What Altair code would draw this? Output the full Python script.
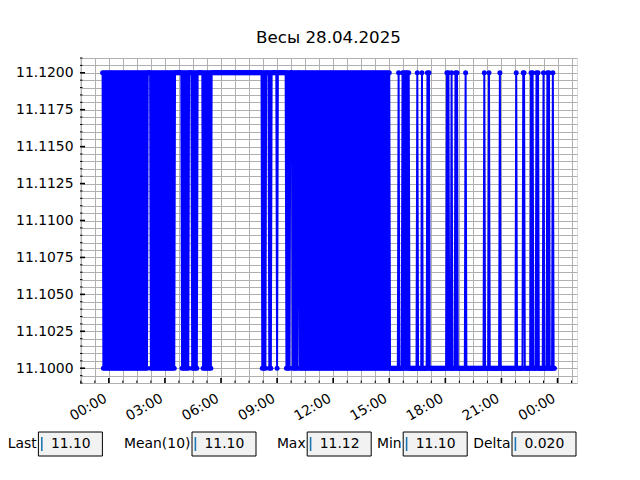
import altair as alt
import pandas as pd

# ---------------- data ----------------
TITLE = "Весы 28.04.2025"
SERIES_START = "2025-04-27 23:40"      # first sample
SAMPLE_SECONDS = 150                    # one reading every 2.5 minutes
LEVELS = {0: 11.10, 1: 11.12}           # the two readings the scale toggles between

# state of every sample, one hour per row (1 -> 11.12, 0 -> 11.10)
STATES = [
    1, 0, 1, 0, 1, 0, 1, 0, 1, 0, 1, 0, 1, 0, 1, 0, 1, 0, 1, 0, 1, 0, 1, 0,   # 23:40
    1, 0, 1, 0, 1, 0, 1, 0, 1, 0, 1, 0, 1, 0, 1, 0, 1, 0, 1, 0, 1, 0, 1, 0,   # 00:40
    1, 0, 1, 0, 1, 0, 1, 0, 1, 0, 1, 1, 1, 1, 0, 1, 0, 1, 0, 1, 0, 1, 0, 1,   # 01:40
    0, 1, 0, 1, 0, 1, 0, 1, 0, 1, 0, 1, 0, 1, 0, 1, 0, 1, 0, 1, 0, 1, 1, 1,   # 02:40
    1, 1, 1, 1, 1, 1, 0, 1, 0, 1, 0, 1, 0, 1, 0, 1, 1, 1, 1, 0, 1, 0, 1, 0,   # 03:40
    1, 0, 1, 1, 1, 1, 1, 1, 1, 0, 1, 0, 1, 0, 1, 0, 1, 0, 1, 0, 1, 1, 1, 1,   # 04:40
    1, 1, 1, 1, 1, 1, 1, 1, 1, 1, 1, 1, 1, 1, 1, 1, 1, 1, 1, 1, 1, 1, 1, 1,   # 05:40
    1, 1, 1, 1, 1, 1, 1, 1, 1, 1, 1, 1, 1, 1, 1, 1, 1, 1, 1, 1, 1, 1, 1, 1,   # 06:40
    1, 1, 1, 1, 1, 1, 1, 1, 1, 1, 1, 1, 1, 0, 1, 0, 1, 0, 1, 1, 1, 1, 0, 1,   # 07:40
    0, 1, 1, 1, 1, 1, 1, 1, 0, 1, 1, 1, 1, 1, 1, 1, 1, 1, 1, 1, 0, 1, 0, 1,   # 08:40
    0, 1, 1, 1, 0, 1, 0, 1, 0, 1, 0, 1, 1, 0, 1, 0, 1, 0, 1, 0, 1, 0, 1, 0,   # 09:40
    1, 0, 1, 0, 1, 0, 1, 0, 1, 0, 1, 0, 1, 0, 1, 0, 1, 0, 1, 0, 1, 0, 1, 0,   # 10:40
    1, 0, 1, 0, 1, 0, 1, 0, 1, 0, 1, 0, 1, 0, 1, 0, 1, 0, 1, 0, 1, 0, 1, 0,   # 11:40
    1, 0, 1, 0, 1, 0, 1, 0, 1, 0, 1, 0, 1, 0, 1, 0, 1, 0, 1, 0, 1, 0, 1, 0,   # 12:40
    1, 0, 1, 0, 1, 0, 1, 0, 1, 0, 1, 0, 1, 0, 1, 0, 1, 0, 1, 0, 1, 0, 1, 0,   # 13:40
    1, 0, 1, 0, 1, 0, 1, 0, 1, 0, 0, 0, 0, 0, 0, 0, 0, 0, 0, 0, 1, 0, 0, 0,   # 14:40
    0, 1, 0, 1, 0, 1, 0, 1, 0, 1, 0, 0, 0, 0, 0, 0, 0, 0, 0, 0, 1, 0, 0, 0,   # 15:40
    0, 0, 1, 0, 0, 0, 0, 0, 0, 1, 0, 1, 0, 0, 0, 0, 0, 0, 0, 0, 0, 0, 0, 0,   # 16:40
    0, 0, 0, 0, 0, 0, 0, 0, 0, 0, 1, 0, 1, 0, 0, 0, 1, 0, 0, 0, 0, 1, 0, 1,   # 17:40
    0, 0, 0, 0, 0, 0, 0, 0, 0, 0, 1, 0, 0, 0, 0, 0, 0, 0, 0, 0, 0, 0, 0, 0,   # 18:40
    0, 0, 0, 0, 0, 0, 0, 0, 0, 0, 1, 0, 0, 0, 0, 0, 1, 0, 0, 0, 0, 0, 0, 0,   # 19:40
    0, 0, 0, 0, 0, 0, 1, 0, 0, 0, 0, 0, 0, 0, 0, 0, 0, 0, 0, 0, 0, 0, 0, 0,   # 20:40
    0, 0, 0, 1, 0, 0, 0, 0, 0, 0, 0, 0, 1, 1, 0, 0, 0, 0, 0, 0, 0, 0, 1, 0,   # 21:40
    1, 0, 0, 0, 0, 1, 0, 1, 0, 0, 0, 0, 0, 0, 1, 0, 0, 0, 0, 1, 0, 1, 0, 0,   # 22:40
    0, 0, 1, 0, 0,                                                           # 23:40
]

Y_MAJOR = [11.1000, 11.1025, 11.1050, 11.1075, 11.1100, 11.1125, 11.1150, 11.1175, 11.1200]
Y_DOMAIN = [11.099, 11.121]
X_MAJOR = ["2025-04-28 00:00", "2025-04-28 03:00", "2025-04-28 06:00", "2025-04-28 09:00",
           "2025-04-28 12:00", "2025-04-28 15:00", "2025-04-28 18:00", "2025-04-28 21:00",
           "2025-04-29 00:00"]
X_DOMAIN = ["2025-04-27 22:27:30", "2025-04-29 01:02:30"]

STAT_LABELS = ["Last", "Mean(10)", "Max", "Min", "Delta"]
STAT_VALUES = ["11.10", "11.10", "11.12", "11.10", "0.020"]

# ---------------- layout / style ----------------
W, H = 497, 325
PAD_L, PAD_T = 72, 50
BOX_LEFT_FRAC = [0.06, 0.30, 0.48, 0.63, 0.80]   # figure fractions of the text boxes
FIG_W = 640
FONT = "DejaVu Sans"
FS = 13.9
BLUE = "#0000ff"
GRID = "#b0b0b0"


def dt(s):
    t = pd.Timestamp(s)
    return alt.DateTime(year=t.year, month=t.month, date=t.day,
                        hours=t.hour, minutes=t.minute, seconds=t.second)


times = pd.date_range(SERIES_START, periods=len(STATES), freq=f"{SAMPLE_SECONDS}s")
df = pd.DataFrame({"time": times, "value": [LEVELS[s] for s in STATES]})

# grid positions (45-minute minor ticks, 0.0005 minor ticks)
x_grid_ts = pd.date_range("2025-04-27 22:30", "2025-04-29 00:45", freq="45min")
x_grid = [dt(t) for t in x_grid_ts]
x_major_ts = set(pd.Timestamp(s) for s in X_MAJOR)
x_minor_ts = [t for t in x_grid_ts if t not in x_major_ts]
y_grid = [round(Y_DOMAIN[0] + 0.0005 * k, 4) for k in range(45)]
y_minor = [v for v in y_grid if all(abs(v - m) > 1e-6 for m in Y_MAJOR)]

xscale = alt.Scale(domain=[dt(X_DOMAIN[0]), dt(X_DOMAIN[1])], nice=False)
yscale = alt.Scale(domain=Y_DOMAIN, nice=False, zero=False)

x_axis = alt.Axis(values=x_grid, tickCount=1000, grid=True, gridColor=GRID, gridWidth=1, ticks=False, domain=False,
                  labelExpr="(hours(datum.value) % 3 == 0 && minutes(datum.value) == 0) ? timeFormat(datum.value, '%H:%M') : ''",
                  labelAngle=330, labelAlign="right", labelBaseline="top", labelPadding=8,
                  labelOffset=-7, labelFont=FONT, labelFontSize=FS, labelColor="black",
                  labelOverlap=False, labelFlush=False, title=None)
y_axis = alt.Axis(values=y_grid, tickCount=1000, grid=True, gridColor=GRID, gridWidth=1, ticks=False, domain=False,
                  labelExpr="abs(datum.value*400 - round(datum.value*400)) < 0.001 ? format(datum.value, '.4f') : ''",
                  labelPadding=7, labelFont=FONT, labelFontSize=FS, labelColor="black",
                  labelBaseline="middle", labelOverlap=False, labelFlush=False, title=None)

base = alt.Chart(df).encode(
    x=alt.X("time:T", scale=xscale, axis=x_axis),
    y=alt.Y("value:Q", scale=yscale, axis=y_axis),
)
line = base.mark_line(color=BLUE, strokeWidth=2)
pts = base.mark_circle(color=BLUE, size=25, opacity=1)

# inward ticks (share the scales and the axes of the main layer)
ymaj = alt.Chart(pd.DataFrame({"value": Y_MAJOR})).mark_rule(color="black", strokeWidth=1.6).encode(
    y=alt.Y("value:Q", scale=yscale), x=alt.value(0), x2=alt.value(5))
ymin = alt.Chart(pd.DataFrame({"value": y_minor})).mark_rule(color="black", strokeWidth=1).encode(
    y=alt.Y("value:Q", scale=yscale), x=alt.value(0), x2=alt.value(2.5))
xmaj = alt.Chart(pd.DataFrame({"time": pd.to_datetime(X_MAJOR)})).mark_rule(color="black", strokeWidth=1.6).encode(
    x=alt.X("time:T", scale=xscale), y=alt.value(H), y2=alt.value(H - 5))
xmin = alt.Chart(pd.DataFrame({"time": x_minor_ts})).mark_rule(color="black", strokeWidth=1).encode(
    x=alt.X("time:T", scale=xscale), y=alt.value(H), y2=alt.value(H - 2.5))

layers = [line, pts, ymaj, ymin, xmaj, xmin]

# statistic text boxes below the plot
box_top = 432 - 8 - PAD_T
box_bot = 456 - 8 - PAD_T
box_mid = (box_top + box_bot) / 2
for lab, val, frac in zip(STAT_LABELS, STAT_VALUES, BOX_LEFT_FRAC):
    bx = frac * FIG_W - 8 - PAD_L
    d = pd.DataFrame({"label": [lab], "value": [val]})
    c = alt.Chart(d)
    layers.append(c.mark_rect(fill="#f2f2f2", stroke="black", strokeWidth=1).encode(
        x=alt.value(bx), x2=alt.value(bx + 64), y=alt.value(box_top), y2=alt.value(box_bot)))
    layers.append(c.mark_rule(color="#1f77b4", strokeWidth=1.6).encode(
        x=alt.value(bx + 3.4), y=alt.value(box_mid - 7), y2=alt.value(box_mid + 7)))
    layers.append(c.mark_text(align="right", baseline="middle", font=FONT, fontSize=FS, color="black").encode(
        x=alt.value(bx - 1.6), y=alt.value(box_mid), text="label:N"))
    layers.append(c.mark_text(align="left", baseline="middle", font=FONT, fontSize=FS, color="black").encode(
        x=alt.value(bx + 12.5), y=alt.value(box_mid), text="value:N"))

chart = alt.layer(*layers).properties(
    width=W, height=H,
    title=alt.TitleParams(TITLE, font=FONT, fontSize=16.7, fontWeight="normal", color="black",
                          anchor="middle", offset=-9, baseline="alphabetic"),
    autosize=alt.AutoSizeParams(type="none"),
    padding={"left": PAD_L, "top": PAD_T, "right": 55, "bottom": 90},
).configure_view(stroke="black", strokeWidth=1.1).configure(background="white")

chart.save("out.html", embed_options={"renderer": "svg", "actions": False})
